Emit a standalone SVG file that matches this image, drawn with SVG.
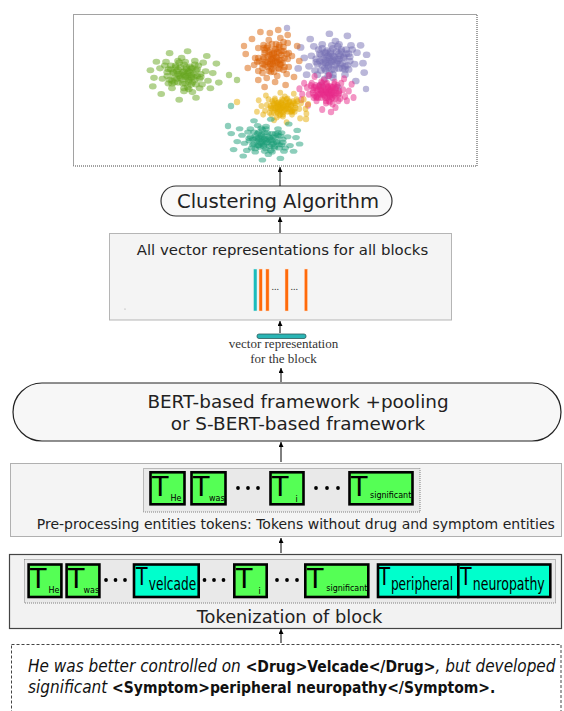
<svg xmlns="http://www.w3.org/2000/svg" xmlns:xlink="http://www.w3.org/1999/xlink" width="564" height="711" viewBox="0 0 564 711">
<style>
.sans{font-family:"DejaVu Sans","Liberation Sans",sans-serif;fill:#222}
.serif{font-family:"Liberation Serif","DejaVu Serif",serif;fill:#333}
.tg{fill:#55ff55;stroke:#000;stroke-width:2.6}
.tc{fill:#00ffcc;stroke:#000;stroke-width:2.6}
.bigT{font-family:"DejaVu Sans",sans-serif;font-size:27px;fill:#000}
.cT{font-family:"DejaVu Sans",sans-serif;font-size:25px;fill:#000}
.sub{font-family:"DejaVu Sans",sans-serif;font-size:8px;fill:#000}
.csub{font-family:"DejaVu Sans",sans-serif;font-size:17px;fill:#000}
.dot{fill:#000}
.conn line{stroke:#000;stroke-width:1;marker-end:url(#ah)}
.q{font-family:"DejaVu Sans Condensed","DejaVu Sans",sans-serif;font-size:17px;fill:#111}
.q .b{font-weight:bold;font-style:normal;font-size:15.5px}
.q .i{font-style:italic}
</style>
<defs>
<marker id="ah" viewBox="0 0 6 6" refX="6" refY="3" markerWidth="5" markerHeight="5" markerUnits="userSpaceOnUse" orient="auto"><path d="M0,0 L6,3 L0,6 z" fill="#000"/></marker>
<g id="pa">
<circle cx="0" cy="0" r="3.2"/><circle cx="3" cy="-2" r="3.2"/><circle cx="-4" cy="1" r="3.2"/><circle cx="6" cy="3" r="3.2"/><circle cx="-2" cy="5" r="3.2"/><circle cx="2" cy="-6" r="3.2"/><circle cx="-6" cy="-4" r="3.2"/><circle cx="8" cy="-1" r="3.2"/><circle cx="-8" cy="3" r="3.2"/><circle cx="4" cy="7" r="3.2"/><circle cx="-3" cy="-8" r="3.2"/><circle cx="9" cy="5" r="3.2"/><circle cx="-9" cy="-2" r="3.2"/><circle cx="1" cy="9" r="3.2"/><circle cx="5" cy="-9" r="3.2"/><circle cx="-5" cy="8" r="3.2"/><circle cx="10" cy="-5" r="3.2"/><circle cx="-10" cy="6" r="3.2"/><circle cx="7" cy="8" r="3.2"/><circle cx="-7" cy="-8" r="3.2"/><circle cx="0" cy="-11" r="3.2"/><circle cx="11" cy="1" r="3.2"/><circle cx="-11" cy="-6" r="3.2"/><circle cx="3" cy="3" r="3.2"/><circle cx="-1" cy="-3" r="3.2"/><circle cx="4" cy="-4" r="3.2"/><circle cx="-5" cy="-1" r="3.2"/><circle cx="2" cy="1" r="3.2"/><circle cx="-3" cy="3" r="3.2"/><circle cx="6" cy="-7" r="3.2"/>
<circle cx="14" cy="2" r="3.2"/><circle cx="-14" cy="-3" r="3.2"/><circle cx="12" cy="-10" r="3.2"/><circle cx="-13" cy="9" r="3.2"/><circle cx="15" cy="10" r="3.2"/><circle cx="-16" cy="-10" r="3.2"/><circle cx="4" cy="15" r="3.2"/><circle cx="-5" cy="-15" r="3.2"/><circle cx="18" cy="-4" r="3.2"/><circle cx="-18" cy="4" r="3.2"/><circle cx="9" cy="-15" r="3.2"/><circle cx="-10" cy="14" r="3.2"/><circle cx="16" cy="-13" r="3.2"/><circle cx="-15" cy="-14" r="3.2"/><circle cx="13" cy="14" r="3.2"/><circle cx="0" cy="17" r="3.2"/><circle cx="-2" cy="-18" r="3.2"/><circle cx="20" cy="6" r="3.2"/><circle cx="-20" cy="-7" r="3.2"/><circle cx="7" cy="18" r="3.2"/>
<circle cx="24" cy="-2" r="3.2"/><circle cx="-25" cy="3" r="3.2"/><circle cx="22" cy="14" r="3.2"/><circle cx="-23" cy="-14" r="3.2"/><circle cx="10" cy="24" r="3.2"/><circle cx="-12" cy="-23" r="3.2"/><circle cx="27" cy="-12" r="3.2"/><circle cx="-26" cy="12" r="3.2"/><circle cx="3" cy="-25" r="3.2"/><circle cx="-4" cy="26" r="3.2"/><circle cx="19" cy="-20" r="3.2"/><circle cx="-19" cy="20" r="3.2"/><circle cx="29" cy="8" r="3.2"/><circle cx="-28" cy="-5" r="3.2"/>
<circle cx="1" cy="2" r="3.2"/><circle cx="-3" cy="-1" r="3.2"/><circle cx="5" cy="-3" r="3.2"/><circle cx="-6" cy="4" r="3.2"/><circle cx="8" cy="2" r="3.2"/><circle cx="-9" cy="-3" r="3.2"/><circle cx="2" cy="-8" r="3.2"/><circle cx="-1" cy="9" r="3.2"/><circle cx="11" cy="-6" r="3.2"/><circle cx="-12" cy="5" r="3.2"/><circle cx="6" cy="10" r="3.2"/><circle cx="-7" cy="-10" r="3.2"/><circle cx="13" cy="4" r="3.2"/><circle cx="-13" cy="-6" r="3.2"/><circle cx="3" cy="13" r="3.2"/><circle cx="-4" cy="-13" r="3.2"/><circle cx="10" cy="10" r="3.2"/><circle cx="-10" cy="9" r="3.2"/><circle cx="9" cy="-11" r="3.2"/><circle cx="-11" cy="-10" r="3.2"/><circle cx="0" cy="-4" r="3.2"/><circle cx="4" cy="5" r="3.2"/><circle cx="-5" cy="-6" r="3.2"/><circle cx="7" cy="-7" r="3.2"/><circle cx="-8" cy="8" r="3.2"/><circle cx="14" cy="-1" r="3.2"/><circle cx="-14" cy="1" r="3.2"/><circle cx="0" cy="14" r="3.2"/><circle cx="1" cy="-14" r="3.2"/><circle cx="6" cy="0" r="3.2"/>
</g>
<g id="pb">
<circle cx="0" cy="0" r="3.2"/><circle cx="3" cy="-1" r="3.2"/><circle cx="-4" cy="1" r="3.2"/><circle cx="6" cy="2" r="3.2"/><circle cx="-2" cy="3" r="3.2"/><circle cx="2" cy="-4" r="3.2"/><circle cx="-6" cy="-2" r="3.2"/><circle cx="8" cy="-1" r="3.2"/><circle cx="-8" cy="2" r="3.2"/><circle cx="4" cy="4" r="3.2"/><circle cx="-3" cy="-5" r="3.2"/><circle cx="9" cy="3" r="3.2"/><circle cx="-9" cy="-1" r="3.2"/><circle cx="1" cy="5" r="3.2"/><circle cx="5" cy="-5" r="3.2"/><circle cx="-5" cy="5" r="3.2"/><circle cx="10" cy="-3" r="3.2"/><circle cx="-10" cy="4" r="3.2"/><circle cx="7" cy="5" r="3.2"/><circle cx="-7" cy="-5" r="3.2"/><circle cx="0" cy="-7" r="3.2"/><circle cx="11" cy="1" r="3.2"/><circle cx="-11" cy="-4" r="3.2"/><circle cx="3" cy="2" r="3.2"/><circle cx="-1" cy="-2" r="3.2"/><circle cx="4" cy="-2" r="3.2"/><circle cx="-5" cy="-1" r="3.2"/><circle cx="2" cy="1" r="3.2"/><circle cx="-3" cy="2" r="3.2"/><circle cx="6" cy="-4" r="3.2"/>
<circle cx="14" cy="1" r="3.2"/><circle cx="-14" cy="-2" r="3.2"/><circle cx="12" cy="-6" r="3.2"/><circle cx="-13" cy="5" r="3.2"/><circle cx="15" cy="6" r="3.2"/><circle cx="-16" cy="-6" r="3.2"/><circle cx="4" cy="9" r="3.2"/><circle cx="-5" cy="-9" r="3.2"/><circle cx="18" cy="-2" r="3.2"/><circle cx="-18" cy="2" r="3.2"/><circle cx="9" cy="-9" r="3.2"/><circle cx="-10" cy="8" r="3.2"/><circle cx="16" cy="-8" r="3.2"/><circle cx="-15" cy="-8" r="3.2"/><circle cx="13" cy="8" r="3.2"/><circle cx="0" cy="10" r="3.2"/><circle cx="-2" cy="-11" r="3.2"/><circle cx="20" cy="4" r="3.2"/><circle cx="-20" cy="-4" r="3.2"/><circle cx="7" cy="11" r="3.2"/>
<circle cx="24" cy="-1" r="3.2"/><circle cx="-25" cy="2" r="3.2"/><circle cx="22" cy="8" r="3.2"/><circle cx="-23" cy="-8" r="3.2"/><circle cx="10" cy="14" r="3.2"/><circle cx="-12" cy="-14" r="3.2"/><circle cx="27" cy="-7" r="3.2"/><circle cx="-26" cy="7" r="3.2"/><circle cx="3" cy="-15" r="3.2"/><circle cx="-4" cy="16" r="3.2"/><circle cx="19" cy="-12" r="3.2"/><circle cx="-19" cy="12" r="3.2"/><circle cx="29" cy="5" r="3.2"/><circle cx="-28" cy="-3" r="3.2"/>
<circle cx="1" cy="1" r="3.2"/><circle cx="-3" cy="-1" r="3.2"/><circle cx="5" cy="-2" r="3.2"/><circle cx="-6" cy="2" r="3.2"/><circle cx="8" cy="1" r="3.2"/><circle cx="-9" cy="-2" r="3.2"/><circle cx="2" cy="-5" r="3.2"/><circle cx="-1" cy="5" r="3.2"/><circle cx="11" cy="-4" r="3.2"/><circle cx="-12" cy="3" r="3.2"/><circle cx="6" cy="6" r="3.2"/><circle cx="-7" cy="-6" r="3.2"/><circle cx="13" cy="2" r="3.2"/><circle cx="-13" cy="-4" r="3.2"/><circle cx="3" cy="8" r="3.2"/><circle cx="-4" cy="-8" r="3.2"/><circle cx="10" cy="6" r="3.2"/><circle cx="-10" cy="5" r="3.2"/><circle cx="9" cy="-7" r="3.2"/><circle cx="-11" cy="-6" r="3.2"/><circle cx="0" cy="-2" r="3.2"/><circle cx="4" cy="3" r="3.2"/><circle cx="-5" cy="-4" r="3.2"/><circle cx="7" cy="-4" r="3.2"/><circle cx="-8" cy="5" r="3.2"/><circle cx="14" cy="-1" r="3.2"/><circle cx="-14" cy="1" r="3.2"/><circle cx="0" cy="8" r="3.2"/><circle cx="1" cy="-8" r="3.2"/><circle cx="6" cy="0" r="3.2"/>
</g>
</defs>
<rect width="564" height="711" fill="#fff"/>

<g id="scatter">
<rect x="73.5" y="14.5" width="403.5" height="151.5" fill="#fff" stroke="#444" stroke-width="1" stroke-dasharray="1,1"/>
<g fill-opacity="0.5">
<use xlink:href="#pa" href="#pa" fill="#66a61e" transform="translate(184,75) scale(1.2,0.95)"/>
<use xlink:href="#pa" href="#pa" fill="#7570b3" transform="translate(333,60) scale(-1.2,1.05)"/>
<use xlink:href="#pa" href="#pa" fill="#d95f02" transform="translate(273,58) rotate(90) scale(1.0,1.05)"/>
<use xlink:href="#pb" href="#pb" fill="#e7298a" transform="translate(326,92) scale(0.95,1.1)"/>
<use xlink:href="#pb" href="#pb" fill="#e6ab02" transform="translate(283,107) scale(-0.9,0.95)"/>
<use xlink:href="#pa" href="#pa" fill="#1b9e77" transform="translate(266,140) rotate(180) scale(1.2,0.8)"/>
<circle cx="287" cy="28" r="3.2" fill="#7570b3"/>
<circle cx="231" cy="106" r="3.2" fill="#1b9e77"/>
<circle cx="237" cy="102" r="3.2" fill="#e6ab02"/>
<circle cx="228" cy="126" r="3.2" fill="#1b9e77"/>
<circle cx="237" cy="80" r="3.2" fill="#66a61e"/>
<circle cx="229" cy="75" r="3.2" fill="#66a61e"/>
<circle cx="244" cy="46" r="3.2" fill="#d95f02"/>
<circle cx="366" cy="89" r="3.2" fill="#7570b3"/>
<circle cx="306" cy="119" r="3.2" fill="#e6ab02"/>
<circle cx="331" cy="112" r="3.2" fill="#e7298a"/>
</g>
</g>

<g id="clustering">
<rect x="161" y="186" width="231" height="30" rx="15" ry="15" fill="#f9f9f9" stroke="#333" stroke-width="1.2"/>
<text x="278" y="208" class="sans" font-size="19.6" text-anchor="middle">Clustering Algorithm</text>
</g>

<g id="vectors">
<rect x="109.5" y="233.5" width="342" height="86.5" fill="#f4f4f4" stroke="#b5b5b5" stroke-width="1"/>
<text x="282.5" y="255" class="sans" font-size="14.9" text-anchor="middle">All vector representations for all blocks</text>
<rect x="253.5" y="269" width="3.5" height="42" fill="#1abcbc" stroke="#e0f0f0" stroke-width="0.5"/>
<rect x="259" y="269" width="3.3" height="42" fill="#ff6a0a" stroke="#ffe0cc" stroke-width="0.5"/>
<rect x="265.8" y="269" width="3.3" height="42" fill="#ff6a0a" stroke="#ffe0cc" stroke-width="0.5"/>
<rect x="285" y="269" width="3.3" height="42" fill="#ff6a0a" stroke="#ffe0cc" stroke-width="0.5"/>
<rect x="304.3" y="269" width="3.3" height="42" fill="#ff6a0a" stroke="#ffe0cc" stroke-width="0.5"/>
<text x="271.5" y="290" class="serif" font-size="10" fill="#222">...</text>
<text x="290.5" y="290" class="serif" font-size="10" fill="#222">...</text>
<circle cx="125" cy="309" r="0.6" fill="#999"/>
</g>

<g id="vector-block">
<rect x="257" y="334" width="49" height="4.5" rx="2" fill="#2ab5b5" stroke="#2a5a5a" stroke-width="0.8"/>
<text x="283.5" y="348" class="serif" font-size="13" text-anchor="middle">vector representation</text>
<text x="283.5" y="363" class="serif" font-size="13" text-anchor="middle">for the block</text>
</g>

<g id="bert">
<rect x="13" y="383" width="548" height="58" rx="29" ry="29" fill="#f7f7f7" stroke="#222" stroke-width="1.2"/>
<text x="298" y="408" class="sans" font-size="18.4" text-anchor="middle">BERT-based framework +pooling</text>
<text x="298" y="430" class="sans" font-size="18.4" text-anchor="middle">or S-BERT-based framework</text>
</g>

<g id="preprocessing">
<rect x="10.5" y="463.5" width="551" height="73" fill="#f4f4f4" stroke="#b0b0b0" stroke-width="1"/>
<rect x="143.5" y="468.5" width="276.5" height="43.5" fill="#e9e9e9" stroke="#666" stroke-width="0.8" stroke-dasharray="1,1"/>
<rect class="tg" x="150.5" y="472.3" width="34" height="32"/>
<text class="bigT" x="152" y="496">T</text><text class="sub" x="170.5" y="501" font-size="9">He</text>
<rect class="tg" x="191.5" y="472.3" width="34" height="32"/>
<text class="bigT" x="193" y="496">T</text><text class="sub" x="209" y="501">was</text>
<circle class="dot" cx="238" cy="488" r="1.9"/><circle class="dot" cx="248" cy="488" r="1.9"/><circle class="dot" cx="258" cy="488" r="1.9"/>
<rect class="tg" x="270.5" y="472.3" width="33" height="32"/>
<text class="bigT" x="272" y="496" font-size="28">T</text><text class="sub" x="295.5" y="502">i</text>
<circle class="dot" cx="316" cy="488" r="1.9"/><circle class="dot" cx="327" cy="488" r="1.9"/><circle class="dot" cx="338" cy="488" r="1.9"/>
<rect class="tg" x="349.5" y="472.3" width="63" height="32"/>
<text class="bigT" x="351" y="496">T</text><text class="sub" x="370" y="498">significant</text>
<text x="295.8" y="529" class="sans" font-size="14" text-anchor="middle">Pre-processing entities tokens: Tokens without drug and symptom entities</text>
</g>

<g id="tokenization">
<rect x="9.5" y="554.5" width="552" height="74" fill="#f2f2f2" stroke="#444" stroke-width="1.2"/>
<rect x="24.5" y="559.5" width="531" height="43.5" fill="#e9e9e9" stroke="#666" stroke-width="0.8" stroke-dasharray="1,1"/>
<rect class="tg" x="28.6" y="564.5" width="32.8" height="32.5"/>
<text class="bigT" x="30" y="588">T</text><text class="sub" x="48.5" y="593" font-size="8.5">He</text>
<rect class="tg" x="66.6" y="564.5" width="32.8" height="32.5"/>
<text class="bigT" x="68" y="588">T</text><text class="sub" x="83.5" y="593">was</text>
<circle class="dot" cx="106" cy="580" r="1.9"/><circle class="dot" cx="115.5" cy="580" r="1.9"/><circle class="dot" cx="125" cy="580" r="1.9"/>
<rect class="tc" x="134" y="564.5" width="64.7" height="32.5"/>
<text class="cT" transform="translate(136,585) scale(0.76,1)">T</text><text class="csub" transform="translate(148.8,589.5) scale(0.716,1)">velcade</text>
<circle class="dot" cx="204.5" cy="580" r="1.9"/><circle class="dot" cx="214" cy="580" r="1.9"/><circle class="dot" cx="223.5" cy="580" r="1.9"/>
<rect class="tg" x="234.3" y="564.5" width="32.4" height="32.5"/>
<text class="bigT" x="236" y="588" font-size="28">T</text><text class="sub" x="258.5" y="594">i</text>
<circle class="dot" cx="277" cy="580" r="1.9"/><circle class="dot" cx="287" cy="580" r="1.9"/><circle class="dot" cx="297" cy="580" r="1.9"/>
<rect class="tg" x="305.3" y="564.5" width="63" height="32.5"/>
<text class="bigT" x="307" y="588">T</text><text class="sub" x="326.3" y="591" textLength="41" lengthAdjust="spacingAndGlyphs">significant</text>
<rect class="tc" x="378" y="564.5" width="80.3" height="32.5"/>
<text class="cT" transform="translate(378.5,585) scale(0.76,1)">T</text><text class="csub" transform="translate(390.9,590) scale(0.716,1)">peripheral</text>
<rect class="tc" x="458.3" y="564.5" width="92" height="32.5"/>
<text class="cT" transform="translate(460,585) scale(0.76,1)">T</text><text class="csub" transform="translate(472.8,590) scale(0.737,1)">neuropathy</text>
<text x="289.5" y="623" class="sans" font-size="17.8" text-anchor="middle">Tokenization of block</text>
</g>

<g id="sentence">
<rect x="11.5" y="644.5" width="549.5" height="80" fill="none" stroke="#444" stroke-width="1" stroke-dasharray="3,2"/>
<text x="28" y="672" class="q"><tspan class="i">He was better controlled on </tspan><tspan class="b">&lt;Drug&gt;Velcade&lt;/Drug&gt;</tspan><tspan class="i">, but developed</tspan></text>
<text x="28" y="693" class="q"><tspan class="i">significant </tspan><tspan class="b">&lt;Symptom&gt;peripheral neuropathy&lt;/Symptom&gt;.</tspan></text>
</g>

<g id="connectors" class="conn">
<line x1="280" y1="186" x2="280" y2="167"/>
<line x1="280" y1="233" x2="280" y2="217"/>
<line x1="280" y1="333" x2="280" y2="321"/>
<line x1="281" y1="382" x2="281" y2="368"/>
<line x1="281" y1="462" x2="281" y2="442"/>
<line x1="281" y1="553" x2="281" y2="538"/>
<line x1="281" y1="643" x2="281" y2="629"/>
</g>
</svg>
